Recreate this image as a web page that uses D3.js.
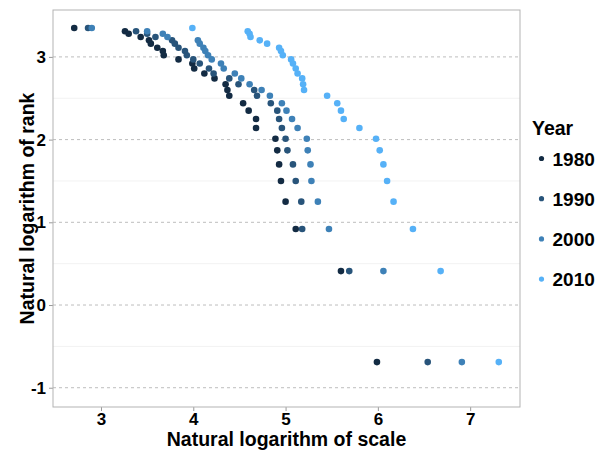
<!DOCTYPE html>
<html lang="en">
<head>
    <meta charset="utf-8" />
    <title>Rank vs scale</title>
    <script src="https://cdnjs.cloudflare.com/ajax/libs/d3/7.8.5/d3.min.js"></script>
    <style>
        body { margin: 0; background: white; }
        text { font-family: "Liberation Sans", Arial, sans-serif; font-weight: bold; fill: black; }
    </style>
</head>
<body>
<div id="chart"></div>

<script>
    // ln(rank) values, shared by all years (rank 29 down to 1)
    const logRank = [3.35, 3.31, 3.28, 3.24, 3.20, 3.16, 3.11, 3.07, 3.02, 2.97,
        2.92, 2.86, 2.80, 2.74, 2.67, 2.60, 2.53, 2.44, 2.35, 2.25,
        2.14, 2.01, 1.87, 1.70, 1.50, 1.25, 0.92, 0.41, -0.69];

    const years = [1980, 1990, 2000, 2010];

    // ln(scale) per year, same order as logRank
    const scale1980 = [2.71, 3.26, 3.30, 3.43, 3.52, 3.54, 3.61, 3.67, 3.68, 3.84,
        3.99, 4.01, 4.12, 4.23, 4.35, 4.37, 4.39, 4.54, 4.60, 4.68,
        4.68, 4.89, 4.91, 4.93, 4.95, 5.00, 5.11, 5.60, 5.99];
    const scale1990 = [2.86, 3.38, 3.50, 3.59, 3.77, 3.80, 3.84, 3.91, 3.93, 4.00,
        4.07, 4.17, 4.22, 4.39, 4.49, 4.66, 4.69, 4.84, 4.91, 4.93,
        4.96, 5.00, 5.02, 5.08, 5.11, 5.17, 5.18, 5.69, 6.54];
    const scale2000 = [2.90, 3.50, 3.67, 3.72, 4.05, 4.07, 4.11, 4.13, 4.16, 4.20,
        4.30, 4.33, 4.45, 4.52, 4.61, 4.74, 4.83, 4.96, 5.01, 5.07,
        5.13, 5.23, 5.24, 5.27, 5.28, 5.35, 5.47, 6.06, 6.91];
    const scale2010 = [3.99, 4.59, 4.61, 4.62, 4.72, 4.80, 4.93, 4.95, 4.97, 5.06,
        5.08, 5.11, 5.13, 5.18, 5.19, 5.20, 5.45, 5.56, 5.60, 5.63,
        5.80, 5.98, 6.02, 6.06, 6.10, 6.17, 6.38, 6.68, 7.31];

    const xTicks = [3, 4, 5, 6, 7];
    const yTicks = [-1, 0, 1, 2, 3];
    const yMinor = [-0.5, 0.5, 1.5, 2.5];

    const width = 600;
    const height = 450;
    const margin = { top: 10, right: 80, bottom: 43, left: 53 };

    const svg = d3.select("#chart")
        .append("svg")
        .attr("width", width)
        .attr("height", height);

    const x = d3.scaleLinear()
        .domain([2.48, 7.54])
        .range([margin.left, width - margin.right]);

    const y = d3.scaleLinear()
        .domain([-1.233, 3.567])
        .range([height - margin.bottom, margin.top]);

    // low/high of the default continuous colour gradient, interpolated in Lab
    const colour = d3.scaleLinear()
        .domain([1980, 2010])
        .range(["#132B43", "#56B1F7"])
        .interpolate(d3.interpolateLab);

    const points = [];
    [scale1980, scale1990, scale2000, scale2010].forEach((series, i) => {
        series.forEach((s, j) => points.push({ year: years[i], x: s, y: logRank[j] }));
    });

    // minor grid (faint) and major grid (dashed)
    svg.append("g")
        .selectAll("line")
        .data(yMinor)
        .join("line")
        .attr("x1", margin.left)
        .attr("x2", width - margin.right)
        .attr("y1", d => y(d))
        .attr("y2", d => y(d))
        .attr("stroke", "#f2f2f2")
        .attr("stroke-width", 1);

    svg.append("g")
        .selectAll("line")
        .data(yTicks)
        .join("line")
        .attr("x1", margin.left)
        .attr("x2", width - margin.right)
        .attr("y1", d => y(d))
        .attr("y2", d => y(d))
        .attr("stroke", "#bdbdbd")
        .attr("stroke-dasharray", "3,3")
        .attr("stroke-width", 1);

    // axes
    const xAxis = svg.append("g")
        .attr("transform", `translate(0, ${height - margin.bottom})`)
        .call(d3.axisBottom(x).tickValues(xTicks).tickSize(4).tickPadding(2).tickFormat(d3.format("d")));

    const yAxis = svg.append("g")
        .attr("transform", `translate(${margin.left}, 0)`)
        .call(d3.axisLeft(y).tickValues(yTicks).tickSize(4).tickPadding(3).tickFormat(d => d < 0 ? "-" + Math.abs(d) : d));

    [xAxis, yAxis].forEach(a => {
        a.select(".domain").remove();
        a.selectAll(".tick line").attr("stroke", "#999");
        a.selectAll(".tick text").style("font-size", "17px").style("font-weight", "bold").attr("fill", "black");
    });

    // panel border
    svg.append("rect")
        .attr("x", margin.left)
        .attr("y", margin.top)
        .attr("width", width - margin.left - margin.right)
        .attr("height", height - margin.top - margin.bottom)
        .attr("fill", "none")
        .attr("stroke", "#b3b3b3")
        .attr("stroke-width", 1);

    // points
    svg.append("g")
        .selectAll("circle")
        .data(points)
        .join("circle")
        .attr("cx", d => x(d.x))
        .attr("cy", d => y(d.y))
        .attr("r", 3.3)
        .attr("fill", d => colour(d.year));

    // axis titles
    svg.append("text")
        .attr("x", (margin.left + width - margin.right) / 2)
        .attr("y", 446)
        .attr("text-anchor", "middle")
        .style("font-size", "19.5px")
        .text("Natural logarithm of scale");

    svg.append("text")
        .attr("transform", `translate(34, ${(margin.top + height - margin.bottom) / 2}) rotate(-90)`)
        .attr("text-anchor", "middle")
        .style("font-size", "19.5px")
        .text("Natural logarithm of rank");

    // legend
    const legend = svg.append("g").attr("transform", "translate(532, 0)");
    legend.append("text")
        .attr("x", 0)
        .attr("y", 135)
        .style("font-size", "19.5px")
        .text("Year");

    const item = legend.selectAll("g.item")
        .data(years)
        .join("g")
        .attr("class", "item")
        .attr("transform", (d, i) => `translate(0, ${158.5 + i * 40.2})`);

    item.append("circle")
        .attr("cx", 9.5)
        .attr("cy", 0)
        .attr("r", 2.6)
        .attr("fill", d => colour(d));

    item.append("text")
        .attr("x", 20.5)
        .attr("y", 7)
        .style("font-size", "19px")
        .text(d => d);
</script>
</body>
</html>
